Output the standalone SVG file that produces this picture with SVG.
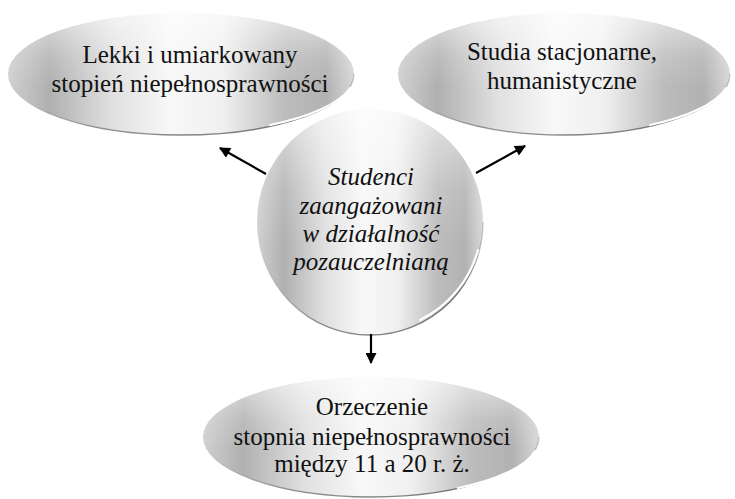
<svg xmlns="http://www.w3.org/2000/svg" width="735" height="499" viewBox="0 0 735 499">
  <defs>
    <!-- metallic horizontal shading shared by all bubbles -->
    <linearGradient id="metal" x1="0" y1="0" x2="1" y2="0">
      <stop offset="0" stop-color="#d0d0d0"/>
      <stop offset="0.12" stop-color="#b0b0b0"/>
      <stop offset="0.3" stop-color="#e0e0e0"/>
      <stop offset="0.47" stop-color="#f8f8f8"/>
      <stop offset="0.62" stop-color="#f0f0f0"/>
      <stop offset="0.8" stop-color="#bcbcbc"/>
      <stop offset="0.92" stop-color="#b2b2b2"/>
      <stop offset="1" stop-color="#d8d8d8"/>
    </linearGradient>
    <!-- soft light top -->
    <linearGradient id="haze" x1="0" y1="0" x2="0" y2="1">
      <stop offset="0" stop-color="#ffffff" stop-opacity="0.6"/>
      <stop offset="0.35" stop-color="#ffffff" stop-opacity="0.15"/>
      <stop offset="0.6" stop-color="#ffffff" stop-opacity="0"/>
    </linearGradient>
    <!-- dark lower rim, fading at both ends -->
    <linearGradient id="rim" x1="0" y1="0" x2="1" y2="0">
      <stop offset="0" stop-color="#777" stop-opacity="0"/>
      <stop offset="0.25" stop-color="#777" stop-opacity="0.8"/>
      <stop offset="0.9" stop-color="#666" stop-opacity="0.9"/>
      <stop offset="1" stop-color="#666" stop-opacity="0.3"/>
    </linearGradient>
    <marker id="head" viewBox="0 0 10 10" refX="9" refY="5" markerWidth="5.5" markerHeight="5" orient="auto" markerUnits="strokeWidth">
      <path d="M0,0 L10,5 L0,10 z" fill="#000"/>
    </marker>
  </defs>
  <style>
    .body { fill: url(#metal); }
    .haze { fill: url(#haze); }
    .rim { fill: none; stroke: url(#rim); stroke-width: 1.4; }
    .shine { fill: none; stroke: #ffffff; stroke-width: 2.2; stroke-linecap: round; }
    .lbl { font-size: 25px; fill: #111; text-anchor: middle; }
    .it { font-style: italic; }
    .arrow { stroke: #000; stroke-width: 2.2; fill: none; marker-end: url(#head); }
  </style>

  <g font-family="Liberation Serif">
  <!-- central circle -->
  <g id="center">
    <circle class="body" cx="370" cy="222" r="113"/>
    <circle class="haze" cx="370" cy="222" r="113"/>
    <path class="rim" d="M257,222 A113,113 0 0 0 483,222"/>
    <path class="shine" d="M478,250 A110,110 0 0 1 420,320"/>
    <text class="lbl it" x="371" y="185">Studenci</text>
    <text class="lbl it" x="371" y="214">zaangażowani</text>
    <text class="lbl it" x="371" y="242">w działalność</text>
    <text class="lbl it" x="371" y="270">pozauczelnianą</text>
  </g>

  <!-- upper left ellipse -->
  <g id="degree">
    <ellipse class="body" cx="181" cy="74" rx="173" ry="61"/>
    <ellipse class="haze" cx="181" cy="74" rx="173" ry="61"/>
    <path class="rim" d="M8,74 A173,61 0 0 0 354,74"/>
    <path class="shine" d="M350,88 A170,58 0 0 1 270,125"/>
    <text class="lbl" x="190" y="63">Lekki i umiarkowany</text>
    <text class="lbl" x="190" y="92">stopień niepełnosprawności</text>
  </g>

  <!-- upper right ellipse -->
  <g id="studies">
    <ellipse class="body" cx="564" cy="74" rx="166" ry="61"/>
    <ellipse class="haze" cx="564" cy="74" rx="166" ry="61"/>
    <path class="rim" d="M398,74 A166,61 0 0 0 730,74"/>
    <path class="shine" d="M726,88 A163,58 0 0 1 650,125"/>
    <text class="lbl" x="562" y="60">Studia stacjonarne,</text>
    <text class="lbl" x="562" y="89">humanistyczne</text>
  </g>

  <!-- lower ellipse -->
  <g id="certificate">
    <ellipse class="body" cx="371" cy="437" rx="168" ry="60"/>
    <ellipse class="haze" cx="371" cy="437" rx="168" ry="60"/>
    <path class="rim" d="M203,437 A168,60 0 0 0 539,437"/>
    <path class="shine" d="M535,451 A165,57 0 0 1 458,488"/>
    <text class="lbl" x="372" y="415">Orzeczenie</text>
    <text class="lbl" x="372" y="445">stopnia niepełnosprawności</text>
    <text class="lbl" x="372" y="472">między 11 a 20 r. ż.</text>
  </g>
  </g>

  <!-- connectors -->
  <g id="connectors">
    <line class="arrow" x1="266" y1="174" x2="220" y2="148"/>
    <line class="arrow" x1="476" y1="173" x2="525" y2="146"/>
    <line class="arrow" x1="371" y1="334" x2="371" y2="363"/>
  </g>
</svg>
